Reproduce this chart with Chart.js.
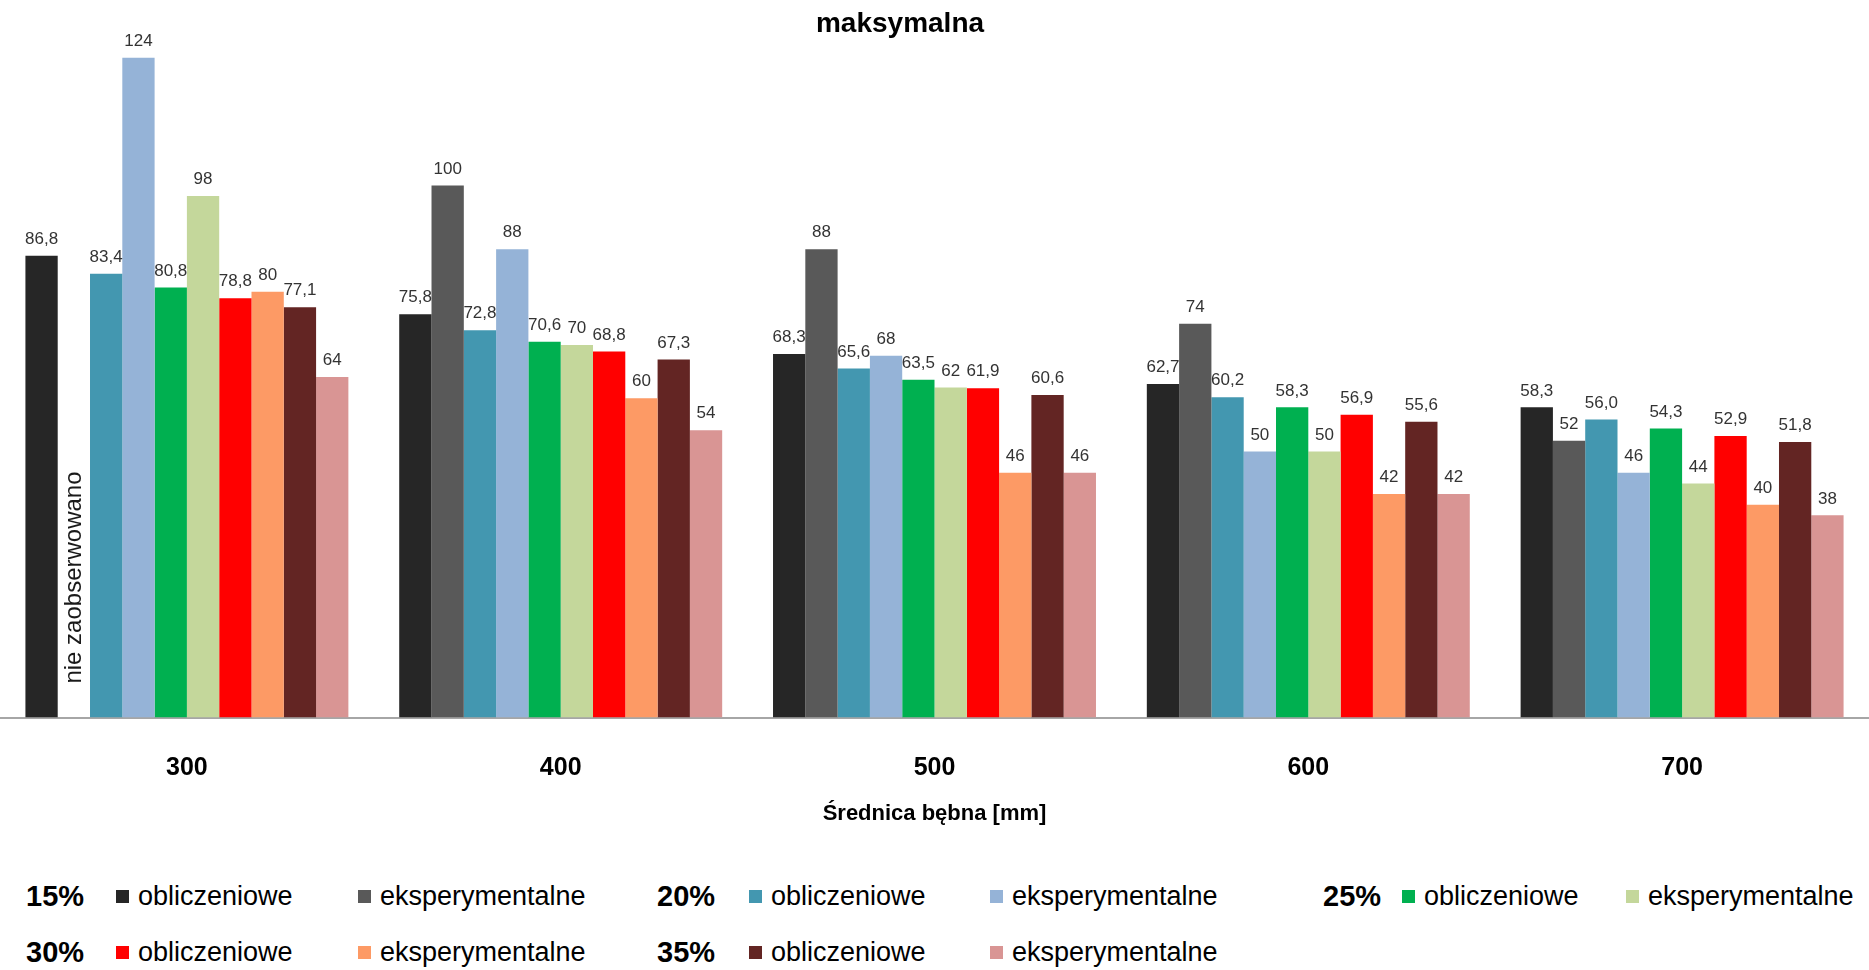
<!DOCTYPE html>
<html lang="pl">
<head>
<meta charset="utf-8">
<title>maksymalna</title>
<script src="https://cdn.jsdelivr.net/npm/chart.js@4/dist/chart.umd.min.js"></script>
<style>
  html, body { margin: 0; padding: 0; background: #fff; }
  #wrap { position: relative; width: 1869px; height: 970px; overflow: hidden; font-family: "Liberation Sans", Arial, sans-serif; }
  #chart { position: absolute; left: 0; top: 0; }
  #title { position: absolute; left: 900px; top: 6px; transform: translateX(-50%); font-weight: bold; font-size: 28px; line-height: 34px; color: #000; white-space: nowrap; }
  .lg { position: absolute; white-space: nowrap; color: #000; }
  .grp { font-weight: bold; font-size: 29px; line-height: 34px; }
  .item { font-size: 27px; line-height: 34px; display: flex; align-items: center; }
  .sw { display: inline-block; width: 13px; height: 13px; margin-right: 9px; }
</style>
</head>
<body>
<div id="wrap">
  <canvas id="chart" width="1869" height="860"></canvas>
  <div id="title">maksymalna</div>
  <div id="legend"></div>
</div>
<script>
// Drum diameters [mm]
const categories = ['300', '400', '500', '600', '700'];

// Slip percentages and series kinds
const groups = ['15%', '20%', '25%', '30%', '35%'];
const kinds = ['obliczeniowe', 'eksperymentalne'];

// Values per slip group: calculated (obl) and experimental (eksp)
const obl15  = [86.8, 75.8, 68.3, 62.7, 58.3];
const eksp15 = [null, 100, 88, 74, 52];
const obl20  = [83.4, 72.8, 65.6, 60.2, 56.0];
const eksp20 = [124, 88, 68, 50, 46];
const obl25  = [80.8, 70.6, 63.5, 58.3, 54.3];
const eksp25 = [98, 70, 62, 50, 44];
const obl30  = [78.8, 68.8, 61.9, 56.9, 52.9];
const eksp30 = [80, 60, 46, 42, 40];
const obl35  = [77.1, 67.3, 60.6, 55.6, 51.8];
const eksp35 = [64, 54, 46, 42, 38];

const missingNote = 'nie zaobserwowano';

const seriesValues = [obl15, eksp15, obl20, eksp20, obl25, eksp25, obl30, eksp30, obl35, eksp35];
const colors = ['#262626', '#595959', '#4397b0', '#95b3d7', '#00b050',
                '#c4d79b', '#ff0000', '#fd9a65', '#632523', '#d99594'];

const datasets = seriesValues.map((vals, i) => ({
  label: groups[Math.floor(i / 2)] + ' ' + kinds[i % 2],
  kind: kinds[i % 2],
  data: vals,
  backgroundColor: colors[i],
  borderWidth: 0,
  barPercentage: 1.0,
  categoryPercentage: 0.864
}));

function fmt(v, kind) {
  return kind === 'obliczeniowe' ? v.toFixed(1).replace('.', ',') : String(v);
}

// Value labels above each bar, plus note for the missing bar
const valueLabels = {
  id: 'valueLabels',
  afterDatasetsDraw(chart) {
    const ctx = chart.ctx;
    ctx.save();
    ctx.font = '17px "Liberation Sans", Arial, sans-serif';
    ctx.fillStyle = '#333333';
    ctx.textAlign = 'center';
    ctx.textBaseline = 'bottom';
    chart.data.datasets.forEach((ds, di) => {
      const meta = chart.getDatasetMeta(di);
      meta.data.forEach((el, j) => {
        const v = ds.data[j];
        if (v === null || v === undefined) return;
        ctx.fillText(fmt(v, ds.kind), el.x, el.y - 8);
      });
    });
    // rotated note in the empty slot
    chart.data.datasets.forEach((ds, di) => {
      ds.data.forEach((v, j) => {
        if (v !== null) return;
        const prev = chart.getDatasetMeta(di - 1).data[j];
        const next = chart.getDatasetMeta(di + 1).data[j];
        const x = (prev.x + next.x) / 2;
        const yBase = chart.scales.y.getPixelForValue(0);
        ctx.save();
        ctx.translate(x + 1, yBase - 34);
        ctx.rotate(-Math.PI / 2);
        ctx.font = '24px "Liberation Sans", Arial, sans-serif';
        ctx.fillStyle = '#1a1a1a';
        ctx.textAlign = 'left';
        ctx.textBaseline = 'middle';
        ctx.fillText(missingNote, 0, 0);
        ctx.restore();
      });
    });
    ctx.restore();
  }
};

new Chart(document.getElementById('chart'), {
  type: 'bar',
  data: { labels: categories, datasets },
  options: {
    responsive: false,
    animation: false,
    layout: { padding: { left: 0, right: 0, top: 47, bottom: 33 } },
    plugins: {
      legend: { display: false },
      tooltip: { enabled: false },
      title: { display: false }
    },
    scales: {
      x: {
        grid: { display: false, drawTicks: false },
        border: { display: true, color: '#a6a6a6', width: 2 },
        ticks: {
          color: '#000',
          padding: 36,
          font: { family: '"Liberation Sans", Arial, sans-serif', size: 25, weight: 'bold' }
        },
        title: {
          display: true,
          text: 'Średnica bębna [mm]',
          color: '#000',
          font: { family: '"Liberation Sans", Arial, sans-serif', size: 22, weight: 'bold' },
          padding: { top: -19, bottom: 0 }
        }
      },
      y: { display: false, min: 0, max: 126 }
    }
  },
  plugins: [valueLabels]
});

// Legend: slip group label followed by its two series
const legendRows = [
  { top: 879, groups: [0, 1, 2] },
  { top: 935, groups: [3, 4] }
];
const legendCols = [
  { label: 26, obl: 116, eksp: 358 },
  { label: 657, obl: 749, eksp: 990 },
  { label: 1323, obl: 1402, eksp: 1626 }
];
const legend = document.getElementById('legend');
legendRows.forEach(row => {
  row.groups.forEach((g, c) => {
    const col = legendCols[c];
    const lab = document.createElement('div');
    lab.className = 'lg grp';
    lab.style.left = col.label + 'px';
    lab.style.top = row.top + 'px';
    lab.textContent = groups[g];
    legend.appendChild(lab);
    kinds.forEach((k, ki) => {
      const it = document.createElement('div');
      it.className = 'lg item';
      it.style.left = (ki === 0 ? col.obl : col.eksp) + 'px';
      it.style.top = row.top + 'px';
      const sw = document.createElement('span');
      sw.className = 'sw';
      sw.style.background = colors[g * 2 + ki];
      it.appendChild(sw);
      it.appendChild(document.createTextNode(k));
      legend.appendChild(it);
    });
  });
});
</script>
</body>
</html>
